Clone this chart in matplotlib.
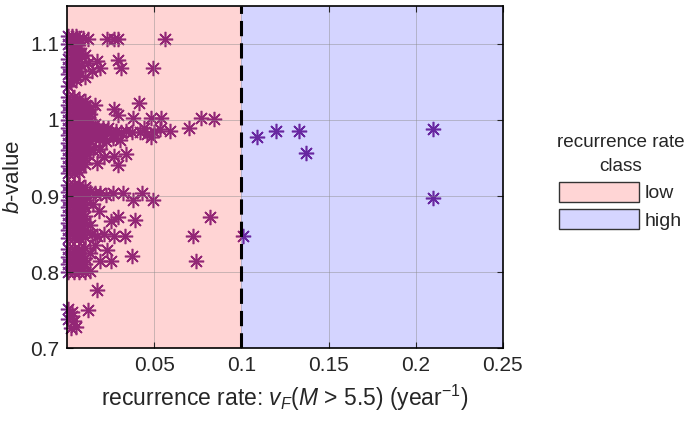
import matplotlib.pyplot as plt
from matplotlib.patches import Patch

plt.rcParams['font.family'] = ['Liberation Sans', 'DejaVu Sans']
plt.rcParams['mathtext.fontset'] = 'custom'
plt.rcParams['mathtext.rm'] = 'Liberation Sans'
plt.rcParams['mathtext.it'] = 'Liberation Sans:italic'

# (recurrence rate, b-value), grouped by b-value band
band_top = [
    (0.0005, 1.110), (0.003, 1.110), (0.005, 1.110), (0.007, 1.108), (0.009, 1.108),
    (0.012, 1.106), (0.023, 1.106), (0.027, 1.106), (0.029, 1.106), (0.056, 1.106),
    (0.0005, 1.100), (0.004, 1.100), (0.006, 1.098), (0.002, 1.090), (0.005, 1.090),
    (0.008, 1.088), (0.0005, 1.080), (0.004, 1.080), (0.007, 1.082), (0.010, 1.085),
    (0.017, 1.077), (0.029, 1.079), (0.031, 1.068), (0.019, 1.069), (0.049, 1.069),
    (0.010, 1.056), (0.0005, 1.070), (0.003, 1.070), (0.006, 1.068), (0.0005, 1.060),
    (0.004, 1.060), (0.002, 1.050), (0.005, 1.052), (0.012, 1.075), (0.014, 1.065),
    (0.008, 1.072), (0.0005, 1.045),
    (0.0025, 1.105), (0.0055, 1.105), (0.0025, 1.095), (0.0055, 1.095),
    (0.0025, 1.085), (0.0055, 1.085), (0.0025, 1.075), (0.0055, 1.075),
    (0.0025, 1.065), (0.0055, 1.065), (0.0025, 1.055), (0.0055, 1.058),
]

band_one = [
    (0.0005, 1.030), (0.004, 1.030), (0.007, 1.028), (0.010, 1.025), (0.016, 1.020),
    (0.0005, 1.020), (0.004, 1.020), (0.007, 1.020), (0.010, 1.018), (0.013, 1.015),
    (0.0005, 1.010), (0.004, 1.010), (0.007, 1.010), (0.010, 1.010), (0.013, 1.008),
    (0.0005, 1.000), (0.004, 1.000), (0.007, 1.000), (0.010, 1.000), (0.013, 1.000),
    (0.0005, 0.990), (0.004, 0.990), (0.007, 0.990), (0.010, 0.990), (0.013, 0.990),
    (0.0005, 0.980), (0.004, 0.980), (0.007, 0.980), (0.010, 0.980), (0.013, 0.980),
    (0.0005, 0.970), (0.004, 0.970), (0.007, 0.970), (0.010, 0.970), (0.013, 0.972),
    (0.0005, 0.960), (0.004, 0.960), (0.007, 0.960), (0.010, 0.960), (0.013, 0.962),
    (0.0005, 0.950), (0.004, 0.950), (0.007, 0.950), (0.010, 0.950),
    (0.0005, 0.940), (0.004, 0.940), (0.007, 0.940), (0.010, 0.942),
    (0.0005, 0.930), (0.004, 0.930), (0.007, 0.932),
    (0.0025, 1.025), (0.0055, 1.025), (0.0085, 1.022), (0.0115, 1.012),
    (0.0025, 1.015), (0.0055, 1.015), (0.0085, 1.015), (0.0115, 1.005),
    (0.0025, 1.005), (0.0055, 1.005), (0.0085, 1.005), (0.0115, 0.995),
    (0.0025, 0.995), (0.0055, 0.995), (0.0085, 0.995), (0.0115, 0.985),
    (0.0025, 0.985), (0.0055, 0.985), (0.0085, 0.985), (0.0115, 0.975),
    (0.0025, 0.975), (0.0055, 0.975), (0.0085, 0.975), (0.0115, 0.965),
    (0.0025, 0.965), (0.0055, 0.965), (0.0085, 0.965), (0.0115, 0.955),
    (0.0025, 0.955), (0.0055, 0.955), (0.0085, 0.955), (0.0085, 0.945),
    (0.0025, 0.945), (0.0055, 0.945), (0.0025, 0.935), (0.0055, 0.935),
    (0.016, 0.985), (0.019, 0.984), (0.022, 0.986), (0.025, 0.984), (0.028, 0.985),
    (0.031, 0.984), (0.034, 0.986), (0.037, 0.984), (0.042, 0.984), (0.046, 0.982),
    (0.050, 0.984), (0.053, 0.988), (0.059, 0.985), (0.048, 0.978), (0.044, 0.990),
    (0.018, 0.975), (0.022, 0.973), (0.026, 0.976), (0.030, 0.974), (0.016, 0.995),
    (0.0145, 0.980), (0.0175, 0.990), (0.0205, 0.980), (0.0235, 0.990),
    (0.0265, 0.980), (0.0145, 0.990), (0.0175, 0.980), (0.0205, 0.990),
    (0.041, 1.023), (0.027, 1.014), (0.029, 1.007), (0.038, 1.003), (0.048, 1.003),
    (0.054, 1.003), (0.077, 1.003), (0.084, 1.001), (0.070, 0.990),
    (0.034, 0.955), (0.027, 0.952), (0.029, 0.941), (0.021, 0.951), (0.017, 0.944),
    (0.015, 0.960), (0.019, 0.962),
]

band_nine = [
    (0.0005, 0.915), (0.004, 0.915), (0.007, 0.914), (0.010, 0.912),
    (0.0005, 0.905), (0.004, 0.905), (0.007, 0.905), (0.010, 0.904), (0.013, 0.905),
    (0.0005, 0.895), (0.004, 0.895), (0.007, 0.895), (0.010, 0.895),
    (0.0005, 0.885), (0.004, 0.885), (0.007, 0.885), (0.010, 0.886),
    (0.0005, 0.875), (0.004, 0.875), (0.007, 0.875), (0.010, 0.874),
    (0.0005, 0.865), (0.004, 0.865), (0.007, 0.865), (0.010, 0.866),
    (0.0005, 0.855), (0.004, 0.855), (0.007, 0.855), (0.010, 0.855),
    (0.0005, 0.845), (0.004, 0.845), (0.007, 0.845), (0.010, 0.846),
    (0.0025, 0.910), (0.0055, 0.910), (0.0085, 0.908),
    (0.0025, 0.900), (0.0055, 0.900), (0.0085, 0.900),
    (0.0025, 0.890), (0.0055, 0.890), (0.0085, 0.890),
    (0.0025, 0.880), (0.0055, 0.880), (0.0085, 0.880),
    (0.0025, 0.870), (0.0055, 0.870), (0.0085, 0.870),
    (0.0025, 0.860), (0.0055, 0.860), (0.0085, 0.860),
    (0.0025, 0.850), (0.0055, 0.850), (0.0085, 0.850),
    (0.016, 0.904), (0.019, 0.904), (0.022, 0.902), (0.026, 0.904), (0.032, 0.904),
    (0.038, 0.895), (0.043, 0.904), (0.049, 0.895), (0.015, 0.890), (0.018, 0.880),
    (0.082, 0.873), (0.072, 0.847), (0.074, 0.814), (0.101, 0.847),
    (0.039, 0.869), (0.029, 0.873), (0.025, 0.867), (0.033, 0.847), (0.037, 0.821),
    (0.027, 0.847), (0.023, 0.829), (0.025, 0.814), (0.019, 0.814), (0.014, 0.850),
    (0.017, 0.848), (0.021, 0.850), (0.013, 0.862), (0.016, 0.835), (0.013, 0.825),
]

band_eight = [
    (0.0005, 0.830), (0.004, 0.830), (0.007, 0.830), (0.010, 0.832),
    (0.0005, 0.820), (0.004, 0.820), (0.007, 0.820), (0.010, 0.818),
    (0.0005, 0.810), (0.004, 0.810), (0.007, 0.810), (0.010, 0.810),
    (0.0005, 0.800), (0.004, 0.800), (0.007, 0.800), (0.010, 0.800), (0.013, 0.801),
    (0.0025, 0.825), (0.0055, 0.825), (0.0085, 0.825),
    (0.0025, 0.815), (0.0055, 0.815), (0.0085, 0.815),
    (0.0025, 0.805), (0.0055, 0.805), (0.0085, 0.805),
    (0.017, 0.776),
]

band_low = [
    (0.0005, 0.752), (0.003, 0.748), (0.0005, 0.738), (0.004, 0.736),
    (0.002, 0.726), (0.005, 0.728), (0.003, 0.742), (0.012, 0.750),
]

# high-rate class
band_high = [
    (0.109, 0.978), (0.120, 0.985), (0.133, 0.985), (0.137, 0.957),
    (0.210, 0.988), (0.210, 0.897),
]

points = band_top + band_one + band_nine + band_eight + band_low + band_high
rate = [p[0] for p in points]
bval = [p[1] for p in points]

rate_split = 0.1
purple = '#7E2F8E'
txt = '#262626'

fig = plt.figure(figsize=(6.86, 4.23), dpi=100)
ax = fig.add_axes([0.098, 0.177, 0.635, 0.809])

ax.plot(rate, bval, ls='none', marker=(8, 2, 0), ms=11, mew=1.15,
        color=purple, clip_on=False, zorder=1)
ax.axvspan(0, rate_split, color=(1, 0, 0), alpha=0.17, lw=0, zorder=2)
ax.axvspan(rate_split, 0.25, color=(0, 0, 1), alpha=0.17, lw=0, zorder=2)
ax.axvline(rate_split, color='k', lw=2.2, ls=(0, (5, 2.3)), zorder=4)

ax.set_xlim(0, 0.25)
ax.set_ylim(0.7, 1.15)
ax.set_xticks([0.05, 0.1, 0.15, 0.2, 0.25])
ax.set_xticklabels(['0.05', '0.1', '0.15', '0.2', '0.25'])
ax.set_yticks([0.7, 0.8, 0.9, 1.0, 1.1])
ax.set_yticklabels(['0.7', '0.8', '0.9', '1', '1.1'])
ax.tick_params(direction='in', labelsize=15, colors=txt, length=4,
               top=True, right=True, pad=6)
ax.grid(True, color='#8a8a8a', lw=0.7, alpha=0.45)
ax.set_axisbelow(False)
for s in ax.spines.values():
    s.set_linewidth(1.2)
    s.set_zorder(5)

ax.set_xlabel(r'recurrence rate: $v_F$($M$ > 5.5) (year$^{-1}$)',
              fontsize=16.5, color=txt, labelpad=5)
ax.set_ylabel(r'$b$-value', fontsize=16, color=txt, labelpad=4)

handles = [Patch(facecolor='#FFD5D5', edgecolor='#333333', label='low'),
           Patch(facecolor='#D5D5FF', edgecolor='#333333', label='high')]
leg = fig.legend(handles=handles, title='recurrence rate\nclass',
                 loc='center', bbox_to_anchor=(0.905, 0.57), frameon=False,
                 fontsize=14, title_fontsize=13.6, handlelength=4.1,
                 handleheight=1.15, handletextpad=0.3, labelspacing=0.35)
leg.get_title().set_multialignment('center')
leg.get_title().set_linespacing(1.55)
for t in leg.get_texts() + [leg.get_title()]:
    t.set_color(txt)

fig.savefig('out.png', dpi=100)
